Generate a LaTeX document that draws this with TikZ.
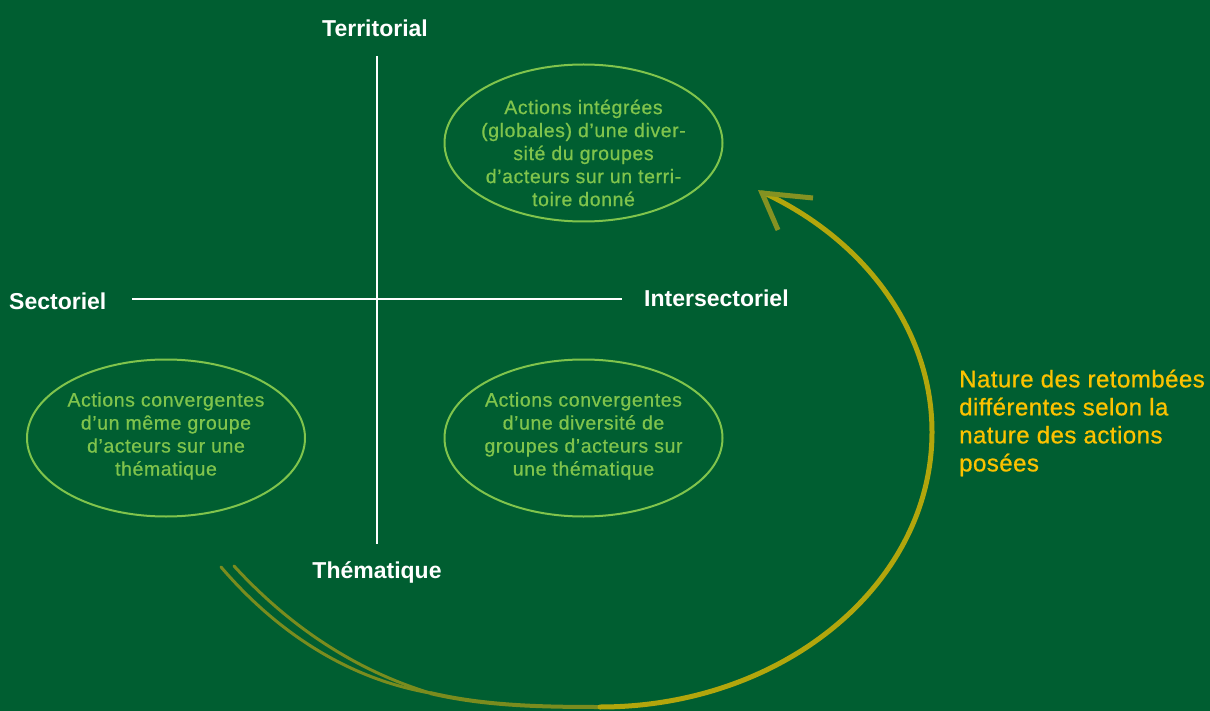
\documentclass[tikz,border=0pt]{standalone}
\usepackage{fontspec}
\setmainfont{Liberation Sans}
\newfontfamily\ellfont[LetterSpace=3,FakeBold=0.6]{Liberation Sans}
\newfontfamily\yelfont[LetterSpace=2,FakeBold=0.8]{Liberation Sans}
\usetikzlibrary{shapes.geometric}
\definecolor{bg}{RGB}{0,94,49}
\definecolor{lgreen}{RGB}{128,196,76}
\definecolor{yel}{RGB}{252,194,0}
\definecolor{olive}{RGB}{122,140,30}
\definecolor{arcy}{RGB}{178,166,12}
\definecolor{barb}{RGB}{132,146,34}
\tikzset{
  axislabel/.style={text=white,font=\bfseries\fontsize{23}{27}\selectfont,inner sep=0pt},
  ovalbox/.style={draw=lgreen,line width=2pt,ellipse,minimum width=278pt,minimum height=157pt,inner sep=0pt},
  ovaltext/.style={text=lgreen,align=center,font=\ellfont\fontsize{19.5}{23}\selectfont,inner sep=0pt},
  axisline/.style={draw=white,line width=2pt},
  loopline/.style={line width=5pt,line cap=round},
}
\begin{document}
\begin{tikzpicture}[x=1pt,y=-1pt]
\fill[bg] (0,0) rectangle (1210,711);
\useasboundingbox (0,0) rectangle (1210,711);
% axes
\coordinate (vtop) at (377,56);
\coordinate (vbot) at (377,544);
\coordinate (hl) at (132,299);
\coordinate (hr) at (622,299);
\draw[axisline] (vtop) -- (vbot);
\draw[axisline] (hl) -- (hr);
\node[axislabel] (terr) at (375,28) {Territorial};
\node[axislabel,anchor=west] (sect) at (9,301) {Sectoriel};
\node[axislabel,anchor=west] (inter) at (644,298) {Intersectoriel};
\node[axislabel] (them) at (377,572) {Thématique};
% ovals
\node[ovalbox] (ovtop) at (583.5,143) {};
\node[ovalbox] (ovleft) at (166,438) {};
\node[ovalbox] (ovright) at (583.5,438) {};
\node[ovaltext] (ttop) at (583.5,153) {Actions intégrées\\(globales) d’une diver-\\sité du groupes\\d’acteurs sur un terri-\\toire donné};
\node[ovaltext] (tleft) at (166,436) {Actions convergentes\\d’un même groupe\\d’acteurs sur une\\thématique};
\node[ovaltext] (tright) at (583.5,436) {Actions convergentes\\d’une diversité de\\groupes d’acteurs sur\\une thématique};
% yellow text
\node[text=yel,anchor=west,align=left,inner sep=0pt,font=\yelfont\fontsize{24}{28}\selectfont] (nat) at (959,423) {Nature des retombées\\différentes selon la\\nature des actions\\posées};
% loop arrow
\coordinate (sa) at (221,567);
\coordinate (sb) at (234,566);
\coordinate (m1) at (430,693);
\coordinate (m2) at (600,707);
\coordinate (tip) at (762,193);
\coordinate (b1) at (813,198);
\coordinate (b2) at (778,230);
\draw[olive,line width=3pt,line cap=round] (sa) .. controls (275,630) and (345,678) .. (m1);
\draw[olive,line width=3pt,line cap=round] (sb) .. controls (290,627) and (355,670) .. (m1);
\draw[olive,line width=4pt] (m1) .. controls (485,706) and (543,707) .. (m2);
\draw[arcy,loopline] (m2) arc[start angle=-90,end angle=60,x radius=332pt,y radius=275pt] -- (tip);
\draw[barb,line width=5pt] (b1) -- (tip) -- (b2);
\end{tikzpicture}
\end{document}
